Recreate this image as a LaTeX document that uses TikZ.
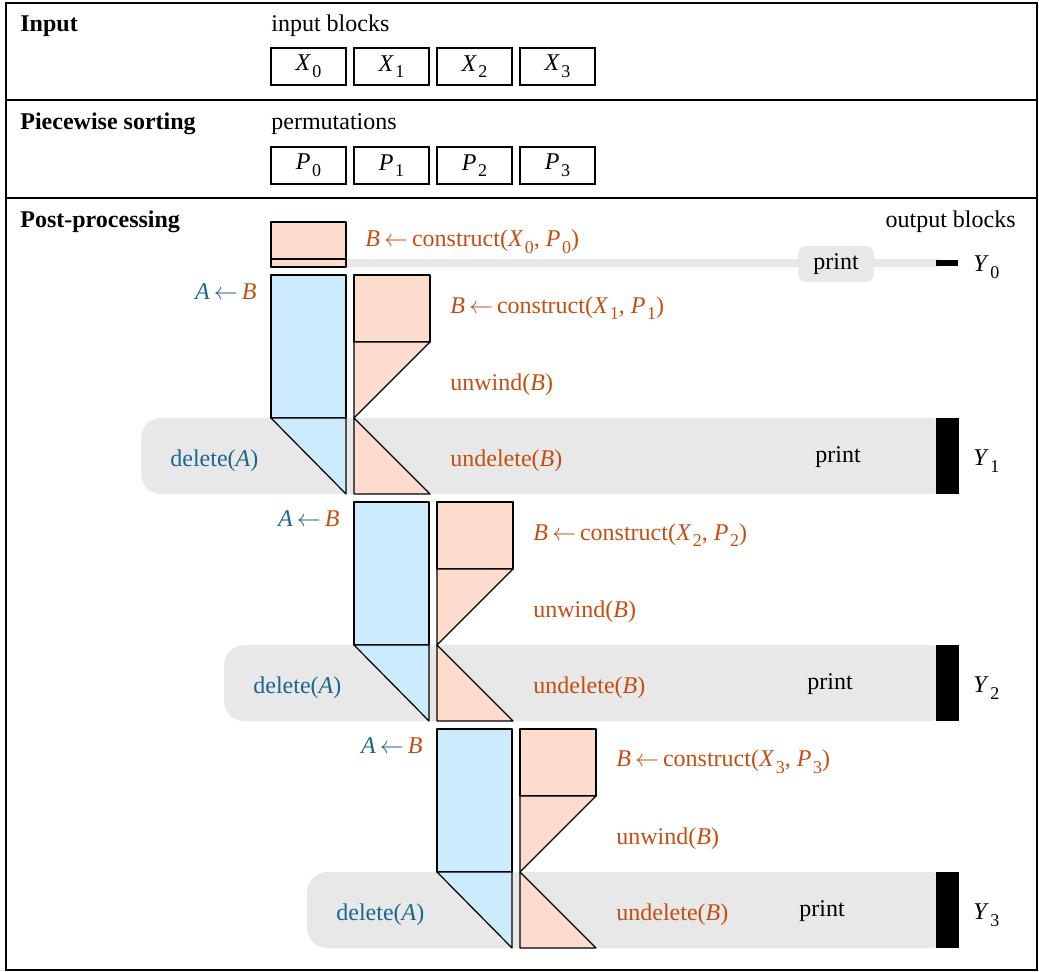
\documentclass[tikz,border=0pt]{standalone}
\usepackage{fontspec}
\setmainfont{Liberation Serif}
\definecolor{tblue}{RGB}{26,102,140}
\definecolor{torange}{RGB}{196,78,18}
\definecolor{fblue}{RGB}{204,235,252}
\definecolor{forange}{RGB}{253,220,206}
\definecolor{bandgrey}{RGB}{232,232,232}
\newcommand\sbv[2]{\textit{#1}\kern0.06em\raisebox{-0.6ex}{\fontsize{9}{9}\selectfont #2}}
\newcommand\larr{\,$\leftarrow$\,}
\tikzset{
  frame/.style={draw=black, line width=0.6pt},
  inbox/.style={draw=black, line width=0.6pt, minimum width=37.5pt, minimum height=18.5pt, inner sep=0pt},
  ablock/.style={fill=fblue, draw=black, line width=0.6pt, line join=round},
  bblock/.style={fill=forange, draw=black, line width=0.6pt, line join=round},
  band/.style={fill=bandgrey},
  printbox/.style={fill=bandgrey, rounded corners=4pt, minimum width=38pt, minimum height=18pt, inner sep=0pt},
  outbar/.style={fill=black},
  head/.style={anchor=west, inner sep=0pt, yshift=-1.5pt, font=\fontsize{12}{14}\selectfont\bfseries},
  lbl/.style={anchor=west, inner sep=0pt, yshift=-1.5pt},
  otxt/.style={anchor=west, inner sep=0pt, yshift=-1.5pt, text=torange},
  btxt/.style={anchor=west, inner sep=0pt, yshift=-1.5pt, text=tblue},
}
\begin{document}
\begin{tikzpicture}[x=0.5pt, y=-0.5pt, font=\fontsize{12}{14}\selectfont]
\useasboundingbox (0,0) rectangle (1039,972);
% frame and separators
\draw[frame] (6,3) rectangle (1037,970);
\draw[frame] (6,100) -- (1037,100);
\draw[frame] (6,198) -- (1037,198);
% headings
\node[head] (hin) at (20,23) {Input};
\node[head] (hps) at (20,121) {Piecewise sorting};
\node[head] (hpp) at (20,219) {Post-processing};
\node[lbl] (tin) at (271,23) {input blocks};
\node[lbl] (tperm) at (271,121) {permutations};
\node[lbl, anchor=east] (tout) at (1016,219) {output blocks};
% input and permutation boxes
\foreach \i in {0,...,3} {
  \node[inbox] (x\i) at ({308.5+83*\i},66.5) {\sbv X\i};
  \node[inbox] (p\i) at ({308.5+83*\i},165.5) {\sbv P\i};
}
% row 0
\fill[band] (346,259) rectangle (940,267);
\node[printbox] (pr0) at (836,264) {print};
\filldraw[bblock] (271,222) rectangle (346,267);
\draw[line width=0.6pt] (271,259) -- (346,259);
\fill[outbar] (936,260) rectangle (958,266);
\node[lbl] (y0) at (973,264) {\sbv Y0};
\node[otxt] (c0) at (365,239) {\textit{B}\larr construct(\sbv X0, \sbv P0)};
% rows 1..3
\foreach \k [evaluate=\k as \dx using {83*(\k-1)}, evaluate=\k as \dy using {227*(\k-1)}, evaluate=\k as \px using {838-8*(\k-1)}] in {1,2,3} {
  \fill[band, rounded corners=10pt] ({141+\dx},{418+\dy}) rectangle (950,{494+\dy});
  \fill[outbar] (936,{418+\dy}) rectangle (959,{494+\dy});
  % A block
  \filldraw[ablock] ({271+\dx},{275+\dy}) rectangle ({346+\dx},{418+\dy});
  \filldraw[ablock] ({271+\dx},{418+\dy}) -- ({346+\dx},{418+\dy}) -- ({346+\dx},{494+\dy}) -- cycle;
  % B block
  \filldraw[bblock] ({354+\dx},{275+\dy}) rectangle ({430+\dx},{342+\dy});
  \filldraw[bblock] ({354+\dx},{342+\dy}) -- ({430+\dx},{342+\dy}) -- ({354+\dx},{418+\dy}) -- cycle;
  \filldraw[bblock] ({354+\dx},{418+\dy}) -- ({430+\dx},{494+\dy}) -- ({354+\dx},{494+\dy}) -- cycle;
  % texts
  \node[lbl, anchor=east] (ab\k) at ({257+\dx},{289+\dy}) {{\color{tblue}\textit{A}\larr}{\color{torange}\textit{B}}};
  \pgfmathtruncatemacro\kk{\k}
  \node[otxt] (c\k) at ({450+\dx},{305+\dy}) {\textit{B}\larr construct(\sbv X\kk, \sbv P\kk)};
  \node[otxt] (u\k) at ({450+\dx},{382+\dy}) {unwind(\textit{B})};
  \node[btxt] (d\k) at ({170+\dx},{458+\dy}) {delete(\textit{A})};
  \node[otxt] (ud\k) at ({450+\dx},{458+\dy}) {undelete(\textit{B})};
  \node[lbl, anchor=center] (pr\k) at (\px,{454+\dy}) {print};
  \node[lbl] (y\k) at (973,{458+\dy}) {\sbv Y\kk};
}
\end{tikzpicture}
\end{document}
